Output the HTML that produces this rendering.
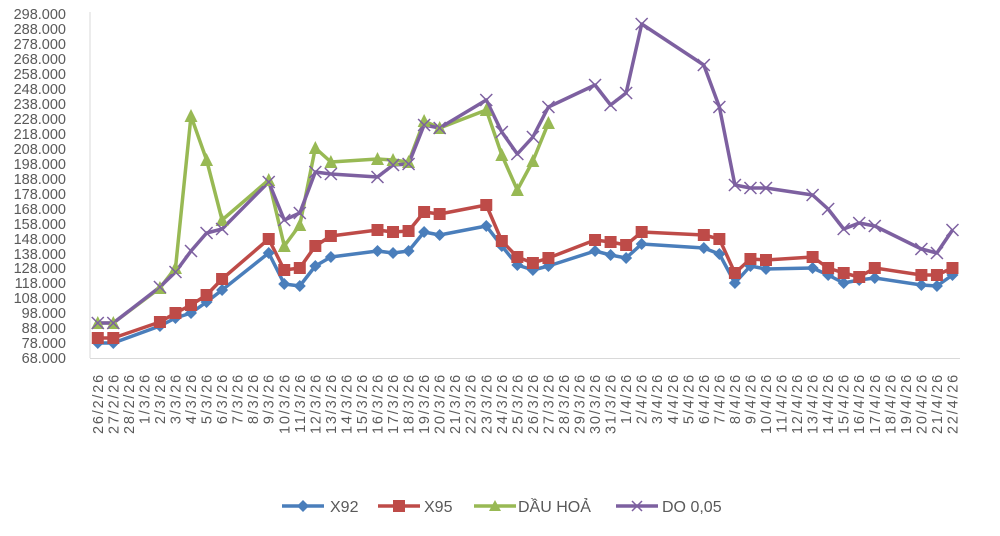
<!DOCTYPE html>
<html><head><meta charset="utf-8"><style>
html,body{margin:0;padding:0;background:#fff;}
svg{display:block;font-family:"Liberation Sans",sans-serif;}
</style></head><body>
<svg id="c" width="1000" height="536" viewBox="0 0 1000 536">
<line x1="90" y1="12" x2="90" y2="358" stroke="#d9d9d9" stroke-width="1"/>
<line x1="90" y1="358.5" x2="960" y2="358.5" stroke="#d9d9d9" stroke-width="1"/>
<g font-size="14.5" fill="#595959" text-anchor="end">
<text x="66" y="19">298.000</text><text x="66" y="34">288.000</text><text x="66" y="49">278.000</text><text x="66" y="64">268.000</text><text x="66" y="79">258.000</text><text x="66" y="94">248.000</text><text x="66" y="109">238.000</text><text x="66" y="124">228.000</text><text x="66" y="139">218.000</text><text x="66" y="154">208.000</text><text x="66" y="169">198.000</text><text x="66" y="184">188.000</text><text x="66" y="199">178.000</text><text x="66" y="214">168.000</text><text x="66" y="229">158.000</text><text x="66" y="244">148.000</text><text x="66" y="259">138.000</text><text x="66" y="273">128.000</text><text x="66" y="288">118.000</text><text x="66" y="303">108.000</text><text x="66" y="318">98.000</text><text x="66" y="333">88.000</text><text x="66" y="348">78.000</text><text x="66" y="363">68.000</text>
</g>
<g id="xl" font-size="14.5" fill="#595959" text-anchor="end" letter-spacing="1.8">
<text>26/2/26</text><text>27/2/26</text><text>28/2/26</text><text>1/3/26</text><text>2/3/26</text><text>3/3/26</text><text>4/3/26</text><text>5/3/26</text><text>6/3/26</text><text>7/3/26</text><text>8/3/26</text><text>9/3/26</text><text>10/3/26</text><text>11/3/26</text><text>12/3/26</text><text>13/3/26</text><text>14/3/26</text><text>15/3/26</text><text>16/3/26</text><text>17/3/26</text><text>18/3/26</text><text>19/3/26</text><text>20/3/26</text><text>21/3/26</text><text>22/3/26</text><text>23/3/26</text><text>24/3/26</text><text>25/3/26</text><text>26/3/26</text><text>27/3/26</text><text>28/3/26</text><text>29/3/26</text><text>30/3/26</text><text>31/3/26</text><text>1/4/26</text><text>2/4/26</text><text>3/4/26</text><text>4/4/26</text><text>5/4/26</text><text>6/4/26</text><text>7/4/26</text><text>8/4/26</text><text>9/4/26</text><text>10/4/26</text><text>11/4/26</text><text>12/4/26</text><text>13/4/26</text><text>14/4/26</text><text>15/4/26</text><text>16/4/26</text><text>17/4/26</text><text>18/4/26</text><text>19/4/26</text><text>20/4/26</text><text>21/4/26</text><text>22/4/26</text>
</g>
<g id="series"></g>
<g font-size="16" fill="#595959">
<line x1="282" y1="506" x2="324" y2="506" stroke="#4a7ebb" stroke-width="3.5"/><path d="M303 500 L309 506 L303 512 L297 506Z" fill="#4a7ebb"/>
<text x="330" y="512">X92</text>
<line x1="378" y1="506" x2="420" y2="506" stroke="#be4b48" stroke-width="3.5"/><rect x="393" y="500" width="12" height="12" fill="#be4b48"/>
<text x="424" y="512">X95</text>
<line x1="474" y1="506" x2="516" y2="506" stroke="#98b954" stroke-width="3.5"/><path d="M495 500 L501 511 L489 511Z" fill="#98b954"/>
<text x="518" y="512">DẦU HOẢ</text>
<line x1="616" y1="506" x2="658" y2="506" stroke="#7d60a0" stroke-width="3.5"/><path d="M632 501 L642 511 M642 501 L632 511" stroke="#7d60a0" stroke-width="1.5"/>
<text x="662" y="512">DO 0,05</text>
</g>
</svg>
<script>
var X=i=>90+15.54*(i+0.5);
var xl=document.querySelectorAll('#xl text');
xl.forEach((t,i)=>{var x=X(i)+5;t.setAttribute('transform','translate('+x+',373) rotate(-90)');});
var blue=[[0,343],[1,343],[4,326],[5,318],[6,313],[7,302],[8,290],[11,253],[12,284],[13,286],[14,266],[15,257],[18,251],[19,253],[20,251],[21,232],[22,235],[25,226],[26,246],[27,265],[28,270],[29,266],[32,251],[33,255],[34,258],[35,244],[39,248],[40,254],[41,283],[42,266],[43,269],[46,268],[47,275],[48,283],[49,280],[50,278],[53,285],[54,286],[55,275]];
var red=[[0,338],[1,338],[4,322],[5,313],[6,305],[7,295],[8,279],[11,239],[12,270],[13,268],[14,246],[15,236],[18,230],[19,232],[20,231],[21,212],[22,214],[25,205],[26,241],[27,257],[28,263],[29,258],[32,240],[33,242],[34,245],[35,232],[39,235],[40,239],[41,273],[42,259],[43,260],[46,257],[47,268],[48,273],[49,277],[50,268],[53,275],[54,275],[55,268]];
var green=[[0,323],[1,323],[4,288],[5,268],[6,116],[7,160],[8,220],[11,180],[12,246],[13,225],[14,148],[15,162],[18,159],[19,160],[20,162],[21,121],[22,128],[25,110],[26,155],[27,190],[28,161],[29,123]];
var purple=[[0,323],[1,323],[4,287],[5,272],[6,251],[7,233],[8,229],[11,182],[12,220],[13,213],[14,172],[15,174],[18,177],[19,165],[20,164],[21,125],[22,128],[25,100],[26,132],[27,154],[28,137],[29,107],[32,85],[33,105],[34,93],[35,24],[39,65],[40,107],[41,185],[42,188],[43,188],[46,195],[47,209],[48,229],[49,223],[50,226],[53,249],[54,253],[55,230]];
var g=document.getElementById('series'),s='';
function line(d,c){s+='<polyline fill="none" stroke="'+c+'" stroke-width="3.5" stroke-linejoin="round" points="'+d.map(p=>X(p[0]).toFixed(1)+','+p[1]).join(' ')+'"/>';}
line(blue,'#4a7ebb');line(red,'#be4b48');line(green,'#98b954');line(purple,'#7d60a0');
blue.forEach(p=>{var x=X(p[0]),y=p[1];s+='<path d="M'+x+' '+(y-6)+' L'+(x+6)+' '+y+' L'+x+' '+(y+6)+' L'+(x-6)+' '+y+'Z" fill="#4a7ebb"/>';});
red.forEach(p=>{var x=X(p[0]),y=p[1];s+='<rect x="'+(x-6)+'" y="'+(y-6)+'" width="12" height="12" fill="#be4b48"/>';});
green.forEach(p=>{var x=X(p[0]),y=p[1];s+='<path d="M'+x+' '+(y-7)+' L'+(x+6.5)+' '+(y+6)+' L'+(x-6.5)+' '+(y+6)+'Z" fill="#98b954"/>';});
purple.forEach(p=>{var x=X(p[0]),y=p[1];s+='<path d="M'+(x-6)+' '+(y-6)+' L'+(x+6)+' '+(y+6)+' M'+(x+6)+' '+(y-6)+' L'+(x-6)+' '+(y+6)+'" stroke="#7d60a0" stroke-width="1.5"/>';});
g.innerHTML=s;
</script>
</body></html>
